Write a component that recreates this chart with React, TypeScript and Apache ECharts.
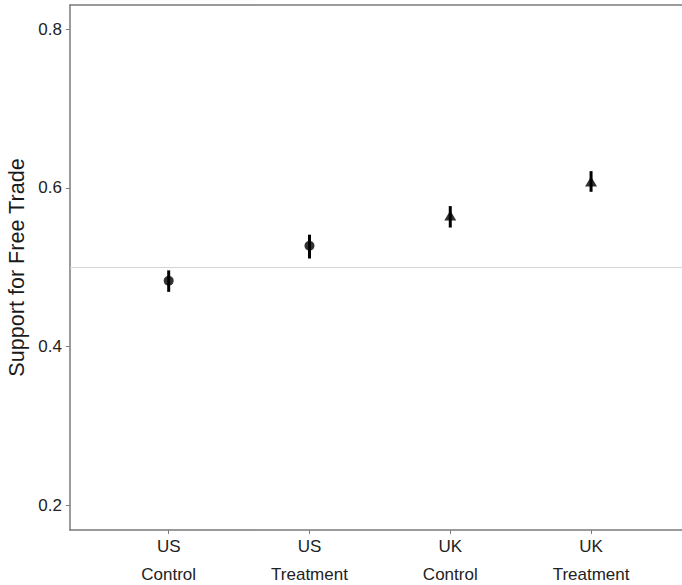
import React, { useEffect, useRef } from "react";
import * as echarts from "echarts";

const categories = ["US\nControl", "US\nTreatment", "UK\nControl", "UK\nTreatment"];
const positions = [1, 2, 3, 4];
const means = [0.483, 0.527, 0.565, 0.608];
const lower = [0.469, 0.511, 0.55, 0.595];
const upper = [0.496, 0.541, 0.577, 0.621];
const shapes = ["circle", "circle", "triangle", "triangle"];
const yTicks = [0.2, 0.4, 0.6, 0.8];
const refLine = 0.5;

const X_MIN = 0.299;
const X_MAX = 4.646;
const Y_MIN = 0.169;
const Y_MAX = 0.8303;

export default function App() {
  const ref = useRef<HTMLDivElement>(null);
  useEffect(() => {
    if (!ref.current) return;
    const chart = echarts.init(ref.current, null, { renderer: "svg" });
    const font = "Liberation Sans, Arial, sans-serif";
    const axisColor = "#7a7a7a";
    chart.setOption({
      animation: false,
      backgroundColor: "#ffffff",
      grid: { left: 70, top: 5, right: 0, bottom: 55, containLabel: false, outerBoundsMode: "none" },
      xAxis: [
        {
          type: "value",
          min: X_MIN,
          max: X_MAX,
          splitLine: { show: false },
          axisLine: { show: true, lineStyle: { color: axisColor, width: 1.5 } },
          axisTick: { show: true, length: 4, customValues: positions, lineStyle: { color: axisColor, width: 1 } },
          axisLabel: {
            customValues: positions,
            formatter: (v: number) => categories[Math.round(v) - 1] ?? "",
            fontSize: 17,
            lineHeight: 28,
            margin: 2,
            color: "#222",
            fontFamily: font,
          },
        },
        {
          type: "value",
          position: "top",
          min: X_MIN,
          max: X_MAX,
          splitLine: { show: false },
          axisLine: { show: true, onZero: false, lineStyle: { color: axisColor, width: 1.5 } },
          axisTick: { show: false },
          axisLabel: { show: false },
        },
      ],
      yAxis: {
        type: "value",
        min: Y_MIN,
        max: Y_MAX,
        name: "Support for Free Trade",
        nameLocation: "middle",
        nameGap: 43,
        nameTextStyle: { fontSize: 21.6, color: "#1a1a1a", fontFamily: font },
        splitLine: { show: false },
        axisLine: { show: true, lineStyle: { color: axisColor, width: 1.5 } },
        axisTick: { show: true, length: 4, customValues: yTicks, lineStyle: { color: axisColor, width: 1 } },
        axisLabel: {
          customValues: yTicks,
          formatter: (v: number) => v.toFixed(1),
          fontSize: 17,
          margin: 8,
          color: "#222",
          fontFamily: font,
        },
      },
      series: [
        {
          type: "custom",
          xAxisIndex: 0,
          data: positions.map((p, i) => [p, lower[i], upper[i]]),
          renderItem: (params: any, api: any) => {
            const a = api.coord([api.value(0), api.value(1)]);
            const b = api.coord([api.value(0), api.value(2)]);
            return {
              type: "line",
              shape: { x1: a[0], y1: a[1], x2: b[0], y2: b[1] },
              style: { stroke: "#000", lineWidth: 3 },
            };
          },
          silent: true,
          z: 3,
        },
        {
          type: "scatter",
          xAxisIndex: 0,
          data: positions.map((p, i) => ({
            value: [p, means[i]],
            symbol: shapes[i],
            symbolSize: shapes[i] === "triangle" ? [12, 10] : 10,
          })),
          itemStyle: { color: "#000" },
          z: 4,
          silent: true,
          markLine: {
            silent: true,
            symbol: "none",
            label: { show: false },
            lineStyle: { color: "#d6d6d6", width: 1, type: "solid" },
            data: [{ yAxis: refLine }],
            z: 1,
          },
        },
      ],
    });
    return () => chart.dispose();
  }, []);
  return (
    <div
      ref={ref}
      style={{ position: "fixed", left: 0, top: 0, width: 682, height: 585, background: "#fff" }}
    />
  );
}
